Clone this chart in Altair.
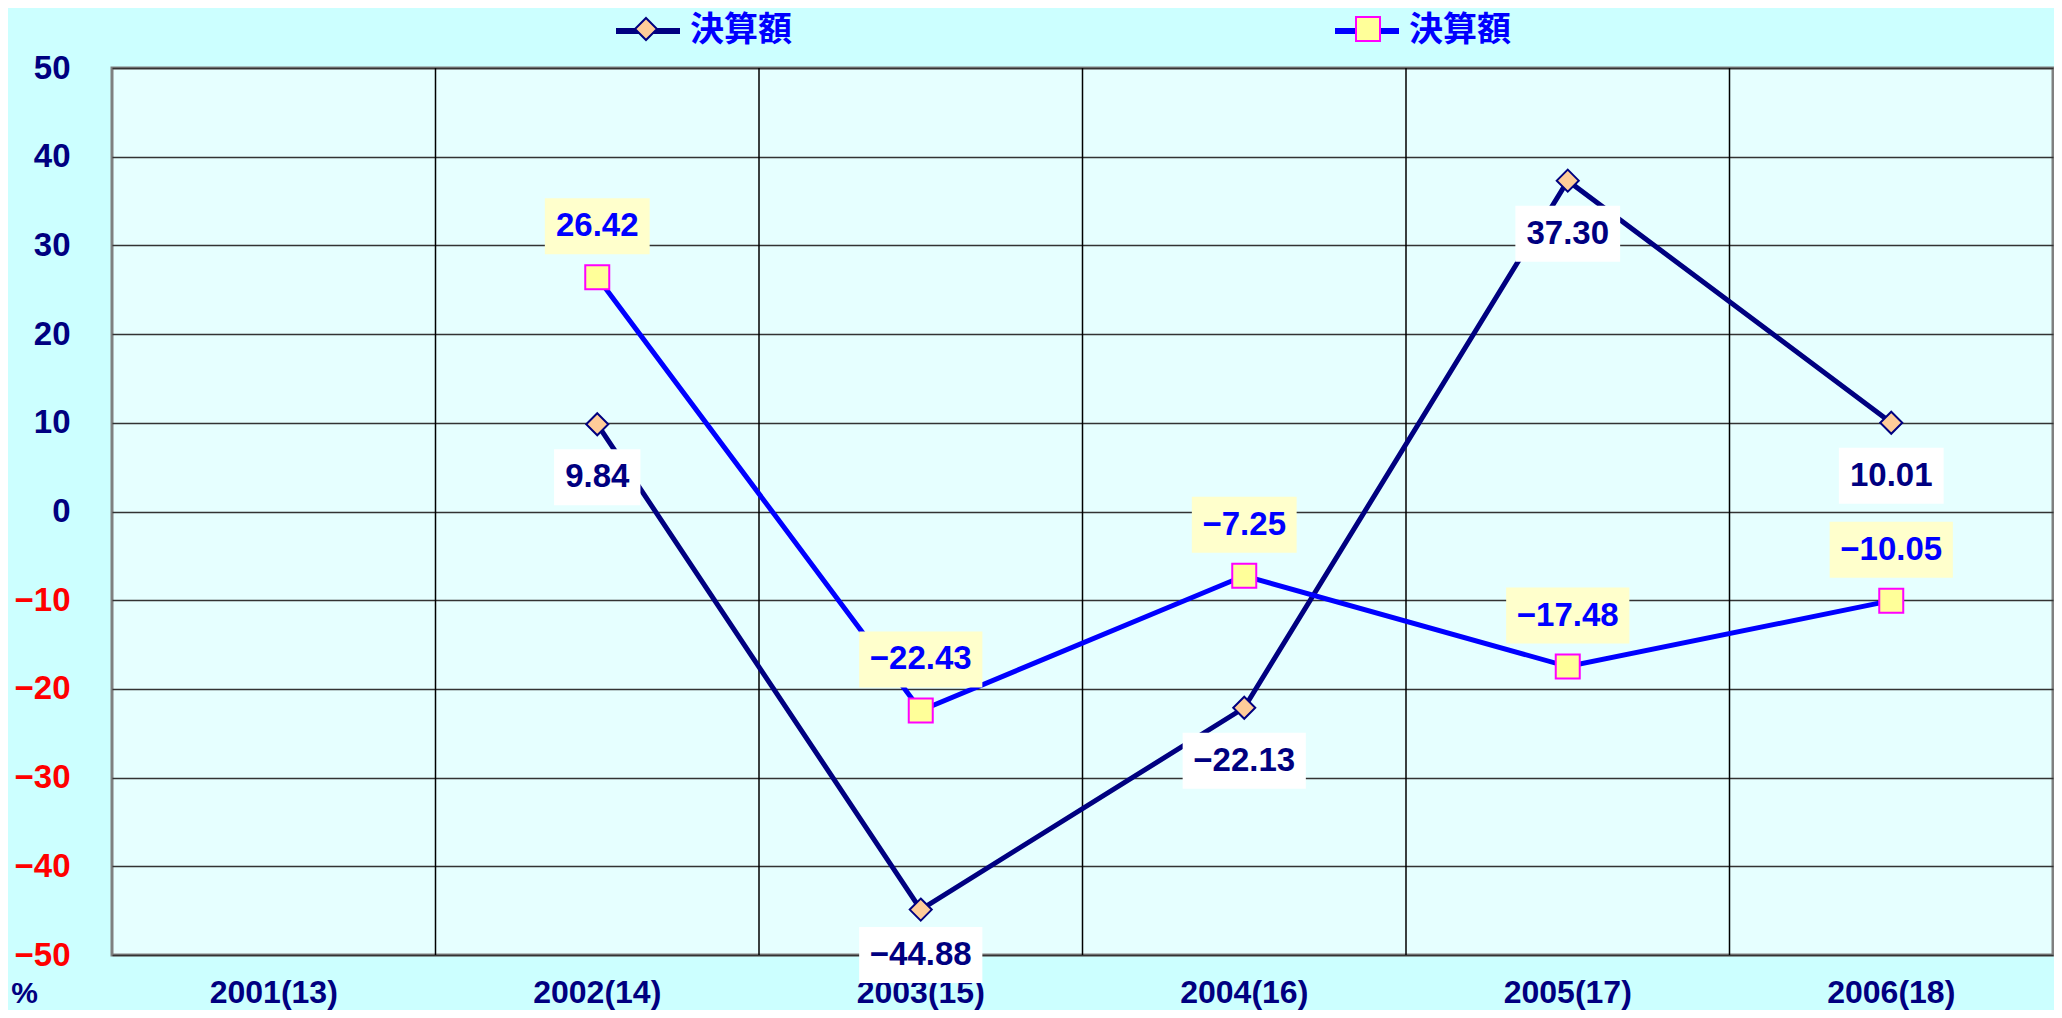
import altair as alt
import pandas as pd

# ---- data ----
categories = ["2001(13)", "2002(14)", "2003(15)", "2004(16)", "2005(17)", "2006(18)"]
series_keys = ["s1", "s2"]
marker_keys = ["p1", "p2"]
legend_label = "決算額"
values_s1 = [None, 9.84, -44.88, -22.13, 37.30, 10.01]
values_s2 = [None, 26.42, -22.43, -7.25, -17.48, -10.05]
y_ticks = [-50, -40, -30, -20, -10, 0, 10, 20, 30, 40, 50]

rows = []
for key, pkey, vals in zip(series_keys, marker_keys, [values_s1, values_s2]):
    for c, v in zip(categories, vals):
        if v is not None:
            rows.append({"cat": c, "series": key, "series_pt": pkey, "value": v})
df = pd.DataFrame(rows)
grid_df = pd.DataFrame({"cat": categories[1:]})

# ---- styling ----
W, H = 1941, 887
PXU = H / 100.0
NAVY = "#000080"
BLUE = "#0000FF"
FONT = "Liberation Sans"

x_scale = alt.Scale(domain=categories, paddingInner=0, paddingOuter=0)
y_scale = alt.Scale(domain=[-50, 50], nice=False, zero=False)

x_axis = alt.Axis(
    labelFont=FONT, labelFontSize=32, labelFontWeight="bold", labelColor=NAVY,
    ticks=False, domain=False, grid=False, labelPadding=37, labelBaseline="middle",
    labelAngle=0, title=None,
)
y_axis = alt.Axis(
    values=y_ticks, format="d", labelFont=FONT, labelFontSize=33, labelFontWeight="bold",
    labelColor={"condition": {"test": "datum.value < 0", "value": "#FF0000"}, "value": NAVY},
    ticks=False, domain=False, grid=True, gridColor="#333333", gridWidth=1.5,
    labelPadding=42, title="%", titleAngle=0, titleX=-88, titleY=925,
    titleFont=FONT, titleFontSize=30, titleFontWeight="bold", titleColor=NAVY,
    titleAlign="center", titleBaseline="middle",
)

X = alt.X("cat:N", scale=x_scale, sort=categories, axis=x_axis)
Y = alt.Y("value:Q", scale=y_scale, axis=y_axis)

diamond_path = "M-1,0M1,0M0,-0.344L0.344,0L0,0.344L-0.344,0Z"
square_path = "M-1,0M1,0M-0.375,-0.375L0.375,-0.375L0.375,0.375L-0.375,0.375Z"

legend_common = dict(
    orient="none", legendX=501, legendY=-72, direction="horizontal", columns=2,
    title=None, labelExpr="'" + legend_label + "'",
    labelFont="Noto Sans CJK JP", labelFontSize=34, labelFontWeight="bold",
    labelColor=BLUE, labelOffset=7, symbolSize=4096, padding=0,
)
legend_line = alt.Legend(symbolType="stroke", symbolStrokeWidth=6, columnPadding=531, **legend_common)
legend_pt = alt.Legend(symbolStrokeWidth=2, columnPadding=544, labelOpacity=0, **legend_common)

base = alt.Chart(df)

rules = alt.Chart(grid_df).mark_rule(color="#000000", strokeWidth=1.5).encode(
    x=alt.X("cat:N", scale=x_scale, sort=categories, axis=x_axis, bandPosition=0)
)

lines = base.mark_line(strokeWidth=5).encode(
    x=X, y=Y,
    color=alt.Color("series:N", scale=alt.Scale(domain=series_keys, range=[NAVY, BLUE]),
                    legend=legend_line),
)

points = base.mark_point(size=4096, strokeWidth=2, filled=True, opacity=1).encode(
    x=X, y=Y,
    shape=alt.Shape("series_pt:N", scale=alt.Scale(domain=marker_keys, range=[diamond_path, square_path]),
                    legend=legend_pt),
    fill=alt.Fill("series_pt:N", scale=alt.Scale(domain=marker_keys, range=["#FFCC99", "#FFFF99"]),
                  legend=legend_pt),
    stroke=alt.Stroke("series_pt:N", scale=alt.Scale(domain=marker_keys, range=[NAVY, "#FF00FF"]),
                      legend=legend_pt),
)

labeled = base.transform_calculate(
    lab_c=f"datum.series == 's1' ? max(datum.value - {53 / PXU}, -50) : datum.value + {51 / PXU}",
    label="format(datum.value, '.2f')",
).transform_calculate(
    lab_lo=f"datum.lab_c - {28 / PXU}",
    lab_hi=f"datum.lab_c + {28 / PXU}",
    box_w="22 + 18.4 * (length(datum.label) - 1) + 9.2",
)

boxes = labeled.mark_bar(opacity=1).encode(
    x=X,
    y=alt.Y("lab_lo:Q", scale=y_scale, axis=y_axis),
    y2="lab_hi:Q",
    size=alt.Size("box_w:Q", scale=None, legend=None),
    color=alt.condition("datum.series == 's1'", alt.value("#FFFFFF"), alt.value("#FFFFCC")),
)

texts = labeled.mark_text(font=FONT, fontSize=33, fontWeight="bold", baseline="middle", align="center").encode(
    x=X,
    y=alt.Y("lab_c:Q", scale=y_scale, axis=y_axis),
    text="label:N",
    color=alt.condition("datum.series == 's1'", alt.value(NAVY), alt.value(BLUE)),
)

chart = alt.layer(rules, lines, points, boxes, texts).properties(
    width=W, height=H,
    padding={"left": 104, "top": 60, "right": 1, "bottom": 55},
    autosize=alt.AutoSizeParams(type="none"),
    background="#CCFFFF",
).configure_view(fill="#E6FFFF", stroke="#808080", strokeWidth=3)

chart.save("out.html", embed_options={"renderer": "svg", "actions": False})
